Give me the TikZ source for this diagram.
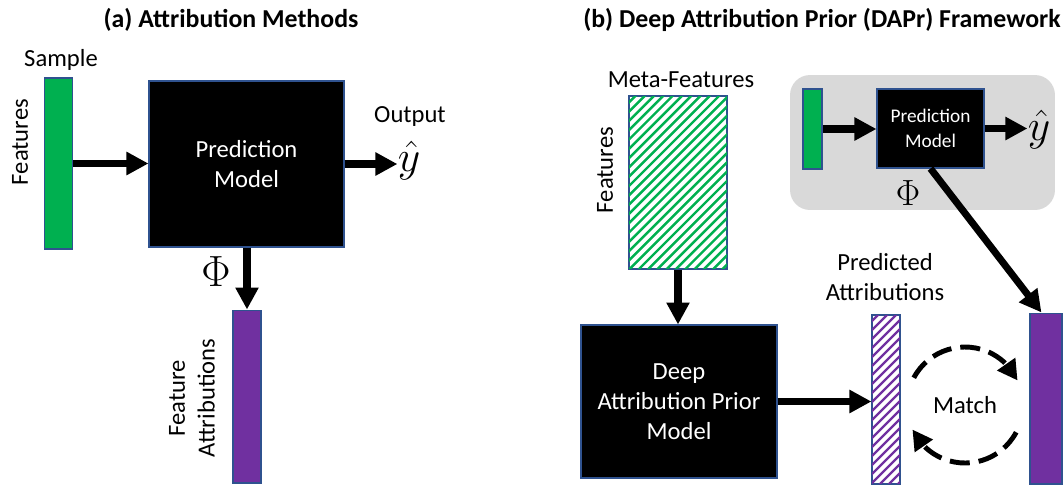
\documentclass[tikz,border=0pt]{standalone}
\usepackage{fontspec}
\setmainfont{Carlito}
\usetikzlibrary{arrows.meta, positioning, calc, bending}
\definecolor{featgreen}{RGB}{0, 176, 80}
\definecolor{attrpurple}{RGB}{112, 48, 160}
\definecolor{edgeblue}{RGB}{47, 82, 143}
\definecolor{panelgray}{RGB}{217, 217, 217}

\begin{document}
\begin{tikzpicture}[
    x=0.02cm, y=-0.02cm,
    bar/.style={rectangle, draw=edgeblue, line width=0.6pt, inner sep=0pt, minimum width=0.56cm},
    barframe/.style={draw=edgeblue, line width=0.6pt},
    model/.style={rectangle, draw=edgeblue, line width=0.6pt, fill=black, text=white, align=center, inner sep=0pt, font=\fontsize{14}{17}\selectfont},
    title/.style={font=\fontsize{14.7}{18}\selectfont\bfseries},
    txt/.style={font=\fontsize{14}{17}\selectfont, align=center},
    mathtxt/.style={font=\fontsize{26}{30}\selectfont, inner sep=0pt},
    hatchline/.style={line width=1.4pt},
    arrow/.style={-{Triangle[length=0.44cm, width=0.44cm]}, line width=4pt},
    matcharrow/.style={-{Triangle[length=0.4cm, width=0.42cm]}, line width=2.8pt, dash pattern=on 0.4cm off 0.18cm},
]
\useasboundingbox (0,0) rectangle (1063,485);

% ============ (a) ATTRIBUTION METHODS ============
\node[title] (titlea) at (231,20) {(a) Attribution Methods};

% Sample and prediction model
\node[bar, fill=featgreen, minimum height=3.42cm] (samplebar) at (58.5,163.5) {};
\node[txt] (sample) at (61,60) {Sample};
\node[txt, rotate=90] (featuresa) at (20,142) {Features};
\node[model, minimum width=3.9cm, minimum height=3.32cm] (predbox) at (246.5,164) {Prediction\\Model};
\node[mathtxt] (yhat) at (409,161) {$\hat{y}$};
\node[txt] (output) at (410,116) {Output};

% Attributions
\node[bar, fill=attrpurple, minimum height=3.46cm] (attrbar) at (247,396.5) {};
\node[mathtxt] (phia) at (216,272) {$\Phi$};
\node[txt, rotate=90] (attrlabel) at (192,398) {Feature\\Attributions};

% ============ (b) DAPr FRAMEWORK ============
\node[title] (titleb) at (822,20) {(b) Deep Attribution Prior (DAPr) Framework};

% Meta-features (hatched) and prior model
\node[bar, minimum width=1.96cm, minimum height=3.46cm] (metabox) at (678,182.5) {};
\begin{scope}
  \clip (metabox.south west) rectangle (metabox.north east);
  \foreach \s in {0,9.3,...,280}
    \draw[hatchline, featgreen] ($(metabox.south west)+(\s-176,0)$) -- ++(180,-180);
\end{scope}
\draw[barframe] (metabox.south west) rectangle (metabox.north east);
\node[txt] (metalabel) at (681,80) {Meta-Features};
\node[txt, rotate=90] (featuresb) at (605,170) {Features};
\node[model, minimum width=3.92cm, minimum height=3.06cm] (dapbox) at (679,401.5) {Deep\\Attribution Prior\\Model};

% Predicted (hatched) vs. true attributions
\node[bar, minimum height=3.38cm] (predbar) at (886,399.5) {};
\begin{scope}
  \clip (predbar.south west) rectangle (predbar.north east);
  \foreach \s in {0,9,...,210}
    \draw[hatchline, attrpurple, line width=1.3pt] ($(predbar.south west)+(\s-172,0)$) -- ++(180,-180);
\end{scope}
\draw[barframe] (predbar.south west) rectangle (predbar.north east);
\node[txt] (predlabel) at (885,277) {Predicted\\Attributions};
\node[bar, fill=attrpurple, minimum width=0.64cm, minimum height=3.42cm] (truebar) at (1046,398.5) {};
\node[txt] (match) at (965,405) {Match};

% Small prediction model on gray panel
\node[fill=panelgray, rounded corners=0.4cm, minimum width=5.3cm, minimum height=2.7cm] (panelbox) at (922.5,142.5) {};
\node[bar, fill=featgreen, minimum width=0.38cm, minimum height=1.6cm] (minibar) at (812.5,129) {};
\node[model, font=\fontsize{11}{14}\selectfont, minimum width=2.14cm, minimum height=1.58cm] (minibox) at (930.5,128.5) {Prediction\\Model};
\node[mathtxt] (yhatb) at (1039,130) {$\hat{y}$};
\node[mathtxt, font=\fontsize{22}{26}\selectfont] (phib) at (908,193) {$\Phi$};

% ============ ARROWS ============
\draw[arrow] (samplebar.east) -- (samplebar.east -| predbox.west);
\draw[arrow] (predbox.east) -- (predbox.east -| yhat.west);
\draw[arrow] (predbox.south -| attrbar.north) -- (attrbar.north);

\draw[arrow] (metabox.south) -- (metabox.south |- dapbox.north);
\draw[arrow] (dapbox.east) -- (dapbox.east -| predbar.west);
\draw[arrow] (minibar.east) -- (minibar.east -| minibox.west);
\draw[arrow] (minibox.east) -- (minibox.east -| yhatb.west);
\draw[arrow] (minibox.south) -- ($(truebar.north west)+(12,0)$);

% Match loop
\draw[matcharrow] ($(match)+(152:1.16cm)$) arc[start angle=152, end angle=25, radius=1.16cm];
\draw[matcharrow] ($(match)+(-28:1.16cm)$) arc[start angle=-28, end angle=-155, radius=1.16cm];

\end{tikzpicture}
\end{document}
